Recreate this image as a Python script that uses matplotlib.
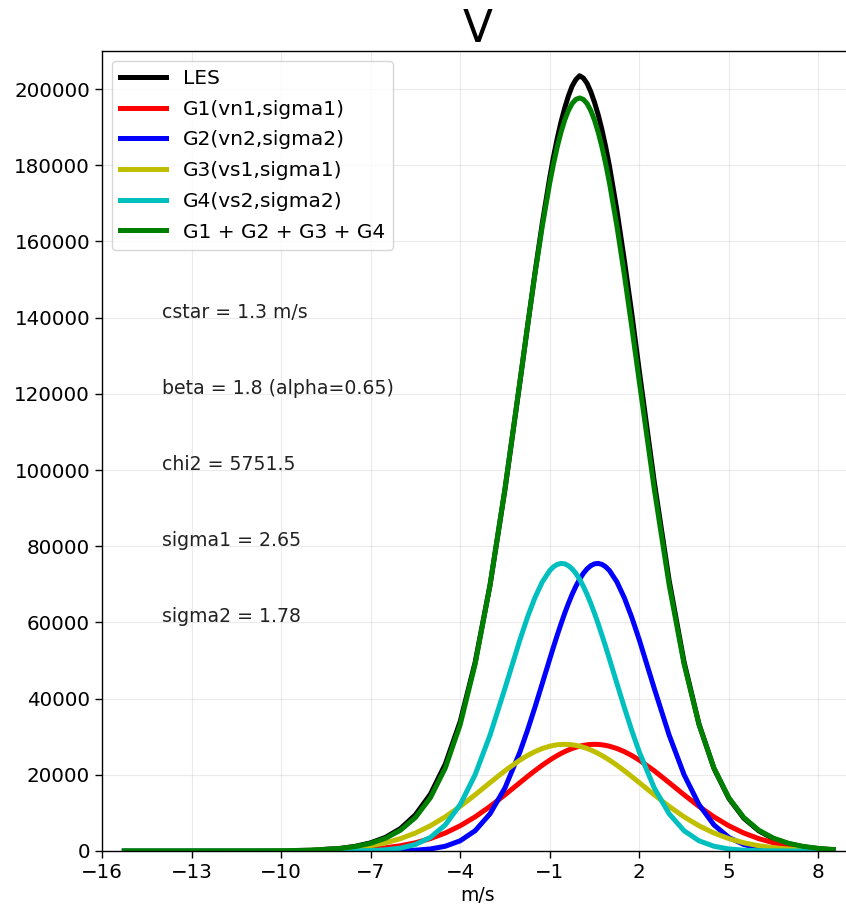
import matplotlib
matplotlib.use('Agg')
import matplotlib.pyplot as plt

# velocity bins (m/s)
v = [-15.25, -14, -13, -12, -11, -10, -9, -8,
     -7.5, -7, -6.5, -6, -5.5, -5, -4.5, -4, -3.5, -3, -2.5, -2,
     -1.75, -1.5, -1.25,
     -1, -0.875, -0.75, -0.625, -0.5, -0.375, -0.25, -0.125, 0,
     0.125, 0.25, 0.375, 0.5, 0.625, 0.75, 0.875, 1,
     1.25, 1.5, 1.75,
     2, 2.5, 3, 3.5, 4, 4.5, 5, 5.5, 6, 6.5, 7, 7.5, 8, 8.5]

les = [0, 0, 0, 2, 12, 50, 200, 700,
       1250, 2150, 3600, 5900, 9500, 14900, 22800, 34000, 49500, 69800, 94900, 123000,
       137400, 151500, 164800,
       176800, 182200, 187000, 191300, 195000, 198200, 200800, 202500, 203500,
       202900, 201500, 199300, 196500, 193200, 189300, 184800, 179800,
       168200, 155000, 141000,
       126000, 97000, 71000, 49600, 33300, 21700, 13800, 8600, 5300, 3200, 1900, 1100, 620, 340]

g1 = [0, 0, 0, 0, 2, 11, 45, 163,
      294, 510, 855, 1383, 2157, 3249, 4721, 6622, 8963, 11705, 14753, 17942,
      19527, 21062, 22515,
      23857, 24470, 25051, 25590, 26077, 26520, 26901, 27230, 27506,
      27720, 27876, 27970, 28000, 27970, 27876, 27720, 27506,
      26901, 26077, 25051,
      23857, 21062, 17942, 14753, 11705, 8963, 6622, 4721, 3249, 2157, 1383, 855, 510, 294]

g2 = [0, 0, 0, 0, 0, 0, 0, 1,
      2, 8, 27, 78, 213, 535, 1246, 2677, 5319, 9768, 16574, 25980,
      31580, 37640, 43990,
      50400, 53560, 56630, 59580, 62380, 64980, 67370, 69490, 71330,
      72860, 74060, 74900, 75380, 75490, 75230, 74600, 73620,
      70630, 66440, 61280,
      55420, 42710, 30420, 20020, 12180, 6848, 3558, 1708, 757, 311, 118, 41, 13, 4]

g3 = [0, 0, 0, 2, 11, 45, 163, 510,
      855, 1383, 2157, 3249, 4721, 6622, 8963, 11705, 14753, 17942, 21062, 23857,
      25051, 26077, 26901,
      27506, 27720, 27876, 27970, 28000, 27970, 27876, 27720, 27506,
      27230, 26901, 26520, 26077, 25590, 25051, 24470, 23857,
      22515, 21062, 19527,
      17942, 14753, 11705, 8963, 6622, 4721, 3249, 2157, 1383, 855, 510, 294, 163, 88]

g4 = [0, 0, 0, 0, 0, 0, 1, 13,
      41, 118, 311, 757, 1708, 3558, 6848, 12180, 20020, 30420, 42710, 55420,
      61280, 66440, 70630,
      73620, 74600, 75230, 75490, 75380, 74900, 74060, 72860, 71330,
      69490, 67370, 64980, 62380, 59580, 56630, 53560, 50400,
      43990, 37640, 31580,
      25980, 16574, 9768, 5319, 2677, 1246, 535, 213, 78, 27, 8, 2, 1, 0]

gsum = [0, 0, 0, 2, 13, 56, 209, 687,
        1192, 2019, 3350, 5467, 8799, 13964, 21778, 33184, 49055, 69835, 95099, 123199,
        137438, 151219, 164036,
        175383, 180350, 184787, 188630, 191837, 194370, 196207, 197300, 197672,
        197300, 196207, 194370, 191837, 188630, 184787, 180350, 175383,
        164036, 151219, 137438,
        123199, 95099, 69835, 49055, 33184, 21778, 13964, 8799, 5467, 3350, 2019, 1192, 687, 386]

labels = ['LES', 'G1(vn1,sigma1)', 'G2(vn2,sigma2)', 'G3(vs1,sigma1)',
          'G4(vs2,sigma2)', 'G1 + G2 + G3 + G4']
colors = ['k', 'r', 'b', 'y', 'c', 'g']

notes = ['cstar = 1.3 m/s', 'beta = 1.8 (alpha=0.65)', 'chi2 = 5751.5',
         'sigma1 = 2.65', 'sigma2 = 1.78']
note_y = [140000, 120000, 100000, 80000, 60000]

fig = plt.figure(figsize=(8.46, 9.06), dpi=100)
ax = fig.add_axes([102 / 846, 55 / 906, 752 / 846, 800 / 906])

for series, lab, col in zip([les, g1, g2, g3, g4, gsum], labels, colors):
    ax.plot(v, series, color=col, lw=3.6, label=lab)

for txt, yy in zip(notes, note_y):
    ax.text(-14, yy, txt, fontsize=13.6, color='#222222')

ax.set_xlim(-16, -16 + 752 / 29.85)
ax.set_ylim(0, 210000)
ax.set_xticks([-16, -13, -10, -7, -4, -1, 2, 5, 8])
ax.set_yticks(range(0, 200001, 20000))
ax.tick_params(labelsize=14.3, width=1.0, length=5)
for s in ax.spines.values():
    s.set_linewidth(1.0)
ax.spines['right'].set_visible(False)
ax.grid(True, alpha=0.25)
ax.set_xlabel('m/s', fontsize=13.5, labelpad=3)
ax.set_title('V', fontsize=31.5, pad=6)
ax.legend(loc='upper left', fontsize=14.5, handlelength=2.3, labelspacing=0.58)

fig.savefig('out.png', dpi=100)
